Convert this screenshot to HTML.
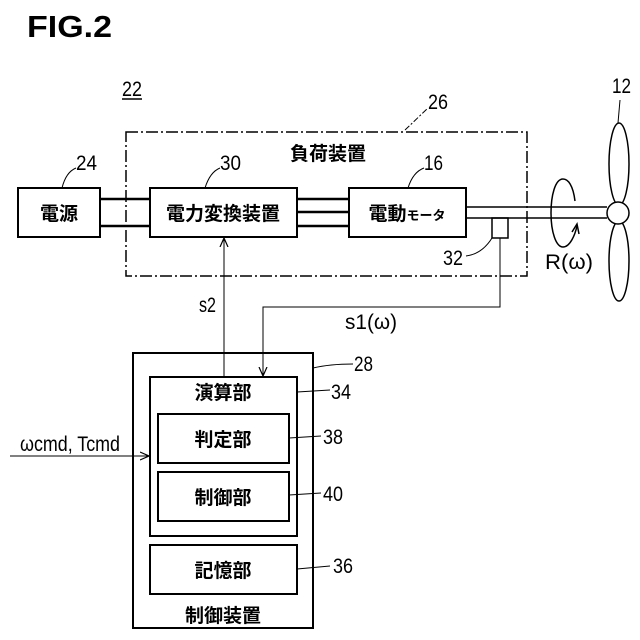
<!DOCTYPE html>
<html><head><meta charset="utf-8"><style>
html,body{margin:0;padding:0;background:#fff;}
svg{display:block;}
text{font-family:"Liberation Sans","Noto Sans CJK JP",sans-serif;fill:#000;}
.j{font-size:19px;font-weight:bold;}
.n{font-size:21px;}
</style></head><body>
<svg width="640" height="640" viewBox="0 0 640 640" xmlns="http://www.w3.org/2000/svg">
<defs><marker id="a" markerWidth="10" markerHeight="10" refX="9" refY="5" orient="auto" markerUnits="userSpaceOnUse"><path d="M0,1 L9,5 L0,9" fill="none" stroke="#000" stroke-width="1.2"/></marker></defs>
<g stroke="#000" fill="none">
<text x="27" y="37" style="font-size:31px;font-weight:bold" stroke="none" textLength="85" lengthAdjust="spacingAndGlyphs">FIG.2</text>
<text x="122" y="96" class="n" stroke="none" textLength="20" lengthAdjust="spacingAndGlyphs">22</text>
<line x1="122" y1="99" x2="142" y2="99" stroke-width="1.5"/>
<rect x="126" y="132" width="401" height="144" stroke-width="1.5" stroke-dasharray="12,3,2,3"/>
<line x1="405" y1="130" x2="428" y2="108" stroke-width="1" stroke-dasharray="6,2,2,2"/>
<text x="428" y="109" class="n" stroke="none" textLength="20" lengthAdjust="spacingAndGlyphs">26</text>
<text x="328" y="160" class="j" text-anchor="middle" stroke="none">負荷装置</text>
<rect x="18" y="188" width="82" height="49" stroke-width="2"/>
<text x="59" y="220" class="j" text-anchor="middle" stroke="none">電源</text>
<path d="M62,188 Q66,172 76,168" stroke-width="1"/>
<text x="76" y="170" class="n" stroke="none" textLength="21" lengthAdjust="spacingAndGlyphs">24</text>
<rect x="150" y="188" width="147" height="49" stroke-width="2"/>
<text x="223" y="220" class="j" text-anchor="middle" stroke="none">電力変換装置</text>
<path d="M205,188 Q210,172 220,168" stroke-width="1"/>
<text x="220" y="170" class="n" stroke="none" textLength="21" lengthAdjust="spacingAndGlyphs">30</text>
<rect x="349" y="188" width="117" height="49" stroke-width="2"/>
<text x="407" y="220" class="j" text-anchor="middle" stroke="none">電動<tspan style="font-size:13px">モータ</tspan></text>
<path d="M408,188 Q413,172 424,168" stroke-width="1"/>
<text x="424" y="170" class="n" stroke="none" textLength="19" lengthAdjust="spacingAndGlyphs">16</text>
<g stroke-width="2.5">
<line x1="100" y1="199" x2="150" y2="199"/><line x1="100" y1="226" x2="150" y2="226"/>
<line x1="297" y1="199" x2="349" y2="199"/><line x1="297" y1="212" x2="349" y2="212"/><line x1="297" y1="226" x2="349" y2="226"/>
</g>
<line x1="466" y1="207" x2="607" y2="207" stroke-width="1.5"/>
<line x1="466" y1="218" x2="607" y2="218" stroke-width="1.5"/>
<rect x="492" y="218" width="16" height="20" stroke-width="1.5"/>
<path d="M492,238 Q482,254 466,256" stroke-width="1"/>
<text x="443" y="265" class="n" stroke="none" textLength="20" lengthAdjust="spacingAndGlyphs">32</text>
<ellipse cx="619" cy="164" rx="10" ry="41" stroke-width="1.5"/>
<ellipse cx="619" cy="261" rx="10" ry="40" stroke-width="1.5"/>
<circle cx="618" cy="213" r="11" fill="#fff" stroke-width="1.5"/>
<line x1="618" y1="123" x2="620" y2="100" stroke-width="1"/>
<text x="612" y="93" class="n" stroke="none" textLength="19" lengthAdjust="spacingAndGlyphs">12</text>
<path d="M575,201 C573,185 568,179 563,179 C555,179 551,196 551,213 C551,232 556,247 563,247 C570,247 575,235 577,226" stroke-width="1.5"/>
<path d="M572,232 L577,224 L579,234" stroke-width="1.5"/>
<text x="545" y="269" class="n" stroke="none" textLength="48" lengthAdjust="spacingAndGlyphs">R(ω)</text>
<polyline points="500,238 500,307 263,307 263,376" stroke-width="1" marker-end="url(#a)"/>
<line x1="224" y1="377" x2="224" y2="238" stroke-width="1" marker-end="url(#a)"/>
<text x="199" y="312" class="n" stroke="none" textLength="17" lengthAdjust="spacingAndGlyphs">s2</text>
<text x="345" y="329" class="n" stroke="none" textLength="52" lengthAdjust="spacingAndGlyphs">s1(ω)</text>
<rect x="133" y="353" width="180" height="275" stroke-width="2"/>
<path d="M313,368 Q330,364 353,364" stroke-width="1"/>
<text x="354" y="371" class="n" stroke="none" textLength="19" lengthAdjust="spacingAndGlyphs">28</text>
<rect x="150" y="377" width="147" height="159" stroke-width="2"/>
<text x="223" y="399" class="j" text-anchor="middle" stroke="none">演算部</text>
<line x1="297" y1="392" x2="330" y2="390" stroke-width="1"/>
<text x="331" y="399" class="n" stroke="none" textLength="20" lengthAdjust="spacingAndGlyphs">34</text>
<rect x="158" y="414" width="131" height="49" stroke-width="2"/>
<text x="223" y="446" class="j" text-anchor="middle" stroke="none">判定部</text>
<line x1="289" y1="438" x2="321" y2="436" stroke-width="1"/>
<text x="323" y="444" class="n" stroke="none" textLength="20" lengthAdjust="spacingAndGlyphs">38</text>
<rect x="158" y="472" width="131" height="49" stroke-width="2"/>
<text x="223" y="504" class="j" text-anchor="middle" stroke="none">制御部</text>
<line x1="289" y1="495" x2="321" y2="493" stroke-width="1"/>
<text x="323" y="501" class="n" stroke="none" textLength="20" lengthAdjust="spacingAndGlyphs">40</text>
<rect x="150" y="545" width="147" height="49" stroke-width="2"/>
<text x="223" y="577" class="j" text-anchor="middle" stroke="none">記憶部</text>
<line x1="297" y1="569" x2="330" y2="566" stroke-width="1"/>
<text x="333" y="573" class="n" stroke="none" textLength="20" lengthAdjust="spacingAndGlyphs">36</text>
<text x="223" y="622" class="j" text-anchor="middle" stroke="none">制御装置</text>
<line x1="10" y1="456" x2="149" y2="456" stroke-width="1" marker-end="url(#a)"/>
<text x="20" y="451" class="n" stroke="none" textLength="100" lengthAdjust="spacingAndGlyphs">ωcmd, Tcmd</text>
</g>
</svg>
</body></html>
